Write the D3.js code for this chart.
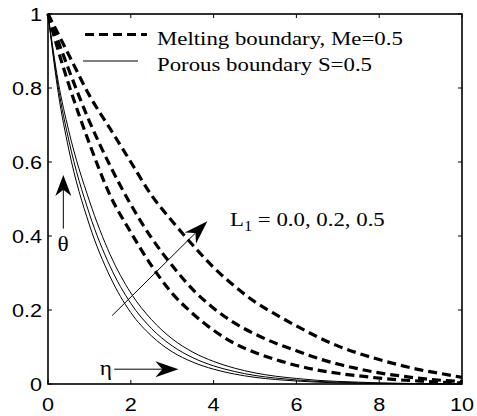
<!DOCTYPE html>
<html>
<head>
<meta charset="utf-8">
<script src="https://cdn.jsdelivr.net/npm/d3@7"></script>
<style>
    body { margin: 0; background: #fff; }
    svg { display: block; }
</style>
</head>
<body>
<div id="chart"></div>
<script>
// similarity variable eta
const eta = [0, 0.25, 0.5, 1, 1.5, 2, 2.5, 3, 3.5, 4, 4.5, 5, 5.5, 6, 6.5, 7, 7.5, 8, 8.5, 9, 9.5, 10];

// melting boundary, Me=0.5 (dashed) for L1 = 0.0, 0.2, 0.5
const meltL00 = [1, 0.90, 0.81, 0.65, 0.51, 0.41, 0.32, 0.245, 0.19, 0.145, 0.11, 0.085, 0.066, 0.05, 0.038, 0.029, 0.022, 0.016, 0.011, 0.008, 0.005, 0.003];
const meltL02 = [1, 0.925, 0.85, 0.71, 0.59, 0.485, 0.395, 0.32, 0.255, 0.205, 0.165, 0.135, 0.11, 0.09, 0.07, 0.054, 0.041, 0.03, 0.022, 0.015, 0.01, 0.007];
const meltL05 = [1, 0.945, 0.89, 0.78, 0.69, 0.60, 0.51, 0.44, 0.375, 0.315, 0.265, 0.222, 0.188, 0.157, 0.128, 0.103, 0.083, 0.066, 0.051, 0.038, 0.028, 0.018];

// porous boundary S=0.5 (solid) for L1 = 0.0, 0.2, 0.5
const porL00 = [1, 0.785, 0.635, 0.43, 0.29, 0.193, 0.13, 0.087, 0.059, 0.04, 0.027, 0.018, 0.012, 0.008, 0.005, 0.003, 0.002, 0.001, 0.001, 0, 0, 0];
const porL02 = [1, 0.80, 0.66, 0.46, 0.318, 0.218, 0.15, 0.103, 0.071, 0.049, 0.034, 0.023, 0.016, 0.011, 0.007, 0.005, 0.003, 0.002, 0.001, 0.001, 0, 0];
const porL05 = [1, 0.815, 0.685, 0.495, 0.35, 0.246, 0.174, 0.122, 0.086, 0.061, 0.043, 0.03, 0.021, 0.015, 0.01, 0.007, 0.005, 0.003, 0.002, 0.001, 0.001, 0];

const xTicks = [0, 2, 4, 6, 8, 10];
const yTicks = [0, 0.2, 0.4, 0.6, 0.8, 1];
const legendLabels = ["Melting boundary, Me=0.5", "Porous boundary S=0.5"];
const annotation = "= 0.0, 0.2, 0.5";

let width = 477, height = 416;
let margin = {top: 14, right: 15, bottom: 32, left: 48};

let svg = d3.select("#chart")
    .append("svg")
    .attr("width", width)
    .attr("height", height);

let x = d3.scaleLinear().domain([0, 10]).range([margin.left, width - margin.right]);
let y = d3.scaleLinear().domain([0, 1]).range([height - margin.bottom, margin.top]);

const stretch = 1.17; // the original text is a bit wide
const sans = "'Liberation Sans', Arial, sans-serif";
const serif = "'Liberation Serif', 'Times New Roman', serif";

// curves
let line = d3.line()
    .x((d, i) => x(eta[i]))
    .y(d => y(d))
    .curve(d3.curveMonotoneX);

[porL00, porL02, porL05].forEach(s => {
    svg.append("path")
        .datum(s)
        .attr("fill", "none")
        .attr("stroke", "#000")
        .attr("stroke-width", 1)
        .attr("d", line);
});
[meltL00, meltL02, meltL05].forEach(s => {
    svg.append("path")
        .datum(s)
        .attr("fill", "none")
        .attr("stroke", "#000")
        .attr("stroke-width", 3.2)
        .attr("stroke-dasharray", "9,5")
        .attr("d", line);
});

// box + inward ticks
let x0 = x(0), x1 = x(10), y0 = y(0), y1 = y(1);
svg.append("rect")
    .attr("x", x0).attr("y", y1)
    .attr("width", x1 - x0).attr("height", y0 - y1)
    .attr("fill", "none").attr("stroke", "#000").attr("stroke-width", 1.6);

let tl = 4;
xTicks.forEach(t => {
    svg.append("line").attr("x1", x(t)).attr("x2", x(t)).attr("y1", y0).attr("y2", y0 - tl).attr("stroke", "#000");
    svg.append("line").attr("x1", x(t)).attr("x2", x(t)).attr("y1", y1).attr("y2", y1 + tl).attr("stroke", "#000");
    svg.append("text")
        .attr("transform", `translate(${x(t)},${y0 + 27}) scale(${stretch},1)`)
        .attr("text-anchor", "middle")
        .style("font-family", sans).style("font-size", "18.5px")
        .text(t);
});
yTicks.forEach(t => {
    svg.append("line").attr("x1", x0).attr("x2", x0 + tl).attr("y1", y(t)).attr("y2", y(t)).attr("stroke", "#000");
    svg.append("line").attr("x1", x1).attr("x2", x1 - tl).attr("y1", y(t)).attr("y2", y(t)).attr("stroke", "#000");
    svg.append("text")
        .attr("transform", `translate(${x0 - 6},${y(t) + 6.5}) scale(${stretch},1)`)
        .attr("text-anchor", "end")
        .style("font-family", sans).style("font-size", "18.5px")
        .text(t);
});

// legend
let lg = svg.append("g");
lg.append("line")
    .attr("x1", 85).attr("x2", 147).attr("y1", 34.5).attr("y2", 34.5)
    .attr("stroke", "#000").attr("stroke-width", 3.2).attr("stroke-dasharray", "9,5");
lg.append("line")
    .attr("x1", 83).attr("x2", 138).attr("y1", 61).attr("y2", 61)
    .attr("stroke", "#000").attr("stroke-width", 1);
legendLabels.forEach((t, i) => {
    lg.append("text")
        .attr("transform", `translate(157,${45 + i * 25.5}) scale(${stretch},1)`)
        .style("font-family", serif).style("font-size", "19.5px")
        .text(t);
});

// arrows
function arrow(p, q, len, half) {
    let ang = Math.atan2(q[1] - p[1], q[0] - p[0]);
    let bx = q[0] - Math.cos(ang) * len * 0.7, by = q[1] - Math.sin(ang) * len * 0.7;
    svg.append("line")
        .attr("x1", p[0]).attr("y1", p[1]).attr("x2", bx).attr("y2", by)
        .attr("stroke", "#000").attr("stroke-width", 1);
    svg.append("path")
        .attr("d", `M0,0 L${-len},${half} L${-len * 0.7},0 L${-len},${-half} Z`)
        .attr("transform", `translate(${q[0]},${q[1]}) rotate(${ang * 180 / Math.PI})`)
        .attr("fill", "#000");
}

arrow([x(0.37), y(0.42)], [x(0.37), y(0.565)], 21, 8);
arrow([x(1.6), y(0.04)], [x(3.15), y(0.04)], 23, 8);
arrow([x(1.55), y(0.185)], [x(3.85), y(0.44)], 24, 8);

// labels
svg.append("text")
    .attr("transform", `translate(${x(0.23)},${y(0.36)}) scale(${stretch},1)`)
    .style("font-family", serif).style("font-size", "20px")
    .text("θ");
svg.append("text")
    .attr("transform", `translate(${x(1.25)},${y(0.025)}) scale(${stretch},1)`)
    .style("font-family", serif).style("font-size", "20px")
    .text("η");

let lt = svg.append("text")
    .attr("transform", `translate(230,226) scale(${stretch},1)`)
    .style("font-family", serif).style("font-size", "19.5px");
lt.append("tspan").text("L");
lt.append("tspan").attr("dy", 5).style("font-size", "14px").text("1");
lt.append("tspan").attr("dy", -5).text(" " + annotation);
</script>
</body>
</html>
